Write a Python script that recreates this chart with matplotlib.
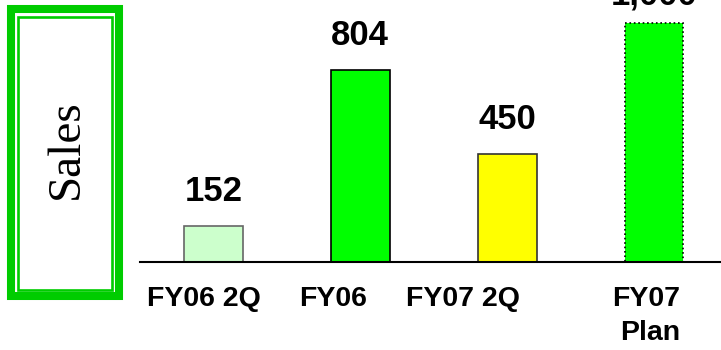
import matplotlib.pyplot as plt
from matplotlib.patches import Rectangle
from matplotlib.transforms import ScaledTranslation

categories = ["FY06 2Q", "FY06", "FY07 2Q", "FY07\nPlan"]
sales = [152, 804, 450, 1000]
bar_colors = ["#ccffcc", "#00ff00", "#ffff00", "#00ff00"]
edge_colors = ["#666666", "#000000", "#333333", "#000000"]
edge_styles = ["-", "-", "-", ":"]
label_shift = [-9.5, -27, -44, -8]  # px, labels are not centred on bars
value_gap = [13, 13, 13, 8]  # pt above bar top

fig = plt.figure(figsize=(7.21, 3.5), dpi=100)
W, H = 721, 350

ax = fig.add_axes([140 / W, 88 / H, 581 / W, 262 / H])
bars = ax.bar(range(len(sales)), sales, width=0.4, color=bar_colors,
              edgecolor=edge_colors, linewidth=1.2)
for b, ls in zip(bars, edge_styles):
    b.set_linestyle(ls)

ax.set_xlim(-0.5, 3.456)
ax.set_ylim(0, 1096)
ax.set_yticks([])
for s in ["top", "right", "left"]:
    ax.spines[s].set_visible(False)
ax.spines["bottom"].set_linewidth(1.5)

ax.set_xticks(range(len(categories)))
ax.set_xticklabels(categories, fontsize=20.5, fontweight="bold",
                   family="Liberation Sans", linespacing=1.4)
ax.tick_params(axis="x", length=0, pad=17)
for lab, dx in zip(ax.get_xticklabels(), label_shift):
    lab.set_multialignment("right")
    lab.set_transform(lab.get_transform() + ScaledTranslation(dx / 100, 0, fig.dpi_scale_trans))

for i, v in enumerate(sales):
    ax.annotate(f"{v:,}", (i, v), xytext=(0, value_gap[i]), textcoords="offset points",
                ha="center", va="bottom", fontsize=25, fontweight="bold",
                family="Liberation Sans", clip_on=False, annotation_clip=False)

# "Sales" box with double green border
green = "#00cc00"
fig.add_artist(Rectangle((10.5 / W, 1 - 296 / H), 108.5 / W, 287 / H,
                         transform=fig.transFigure, fill=False,
                         edgecolor=green, linewidth=5.8))
fig.add_artist(Rectangle((17.5 / W, 1 - 289.5 / H), 94 / W, 273 / H,
                         transform=fig.transFigure, fill=False,
                         edgecolor=green, linewidth=1.9))
fig.text(67 / W, 1 - 149.5 / H, "Sales", rotation=90, ha="center", va="center",
         fontsize=34, family="Liberation Serif")

fig.savefig("out.png", dpi=100)
